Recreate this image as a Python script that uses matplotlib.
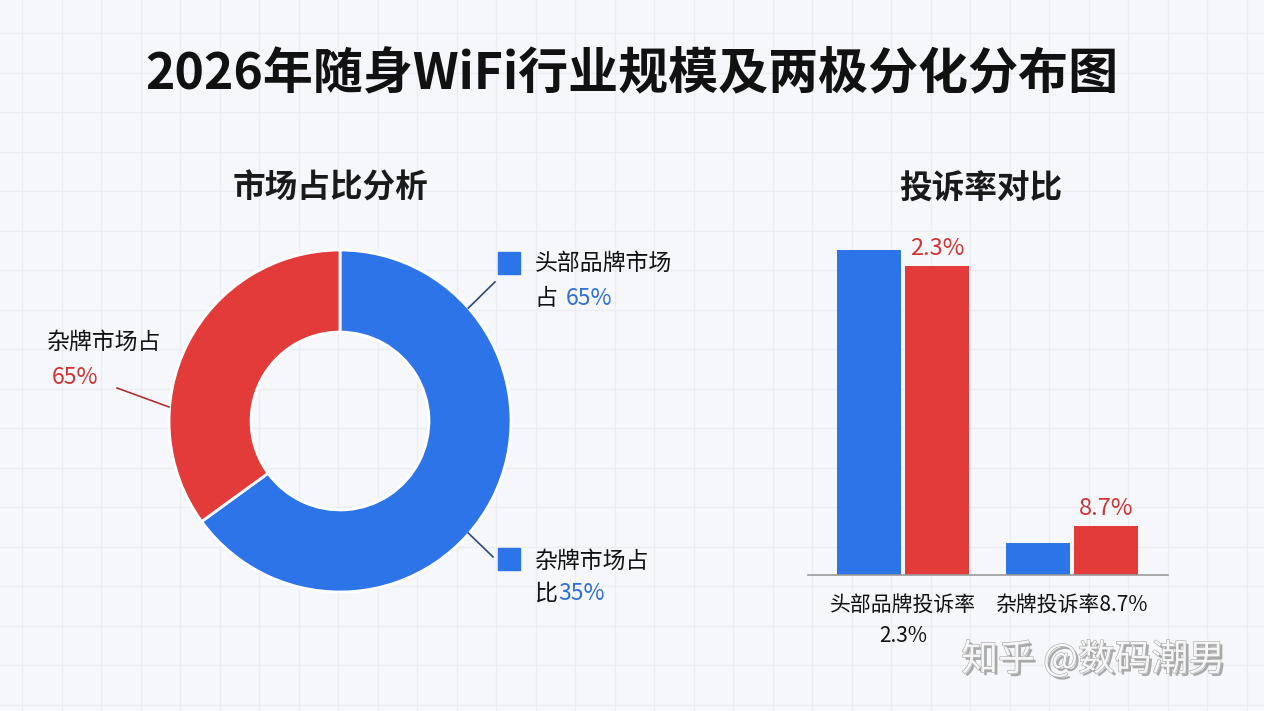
import matplotlib.pyplot as plt
import matplotlib.patheffects as pe
import numpy as np

plt.rcParams['font.family'] = ['Noto Sans CJK SC', 'DejaVu Sans']

# donut data
share_names = ['头部品牌', '杂牌']
share_values = [65, 35]

# bar data (relative heights)
bar_groups = ['头部品牌投诉率\n2.3%', '杂牌投诉率8.7%']
blue_vals = [10.0, 1.0]
red_vals = [9.5, 1.5]
red_labels = ['2.3%', '8.7%']

BLUE = '#2d74e8'
RED = '#e33a3a'
RED_TXT = '#cf3434'
BLUE_TXT = '#2f6fd6'
W, H = 1264, 711


def fx(x):
    return x / W


def fy(y):
    return 1 - y / H


fig = plt.figure(figsize=(12.64, 7.11), dpi=100)
fig.patch.set_facecolor('#f5f7fa')

# graph paper background
bg = fig.add_axes([0, 0, 1, 1], zorder=-10)
bg.set_xlim(0, W)
bg.set_ylim(H, 0)
bg.axis('off')
for x in np.arange(22, W, 39.5):
    bg.axvline(x, color='#eaedf2', lw=0.9)
for y in np.arange(33, H, 39.5):
    bg.axhline(y, color='#eaedf2', lw=0.9)

fig.text(fx(632), fy(75), '2026年随身WiFi行业规模及两极分化分布图', ha='center', va='center',
         fontsize=36, fontweight='bold', color='#111111')
fig.text(fx(330), fy(188), '市场占比分析', ha='center', va='center', fontsize=23.5,
         fontweight='bold', color='#1a1a1a')
fig.text(fx(981), fy(188), '投诉率对比', ha='center', va='center', fontsize=23.5,
         fontweight='bold', color='#1a1a1a')

# donut
r = 171
ax1 = fig.add_axes([fx(340 - r), fy(421 + r), 2 * r / W, 2 * r / H])
ax1.pie(share_values, colors=[BLUE, RED], startangle=90, counterclock=False,
        wedgeprops=dict(width=0.48, edgecolor='white', linewidth=2))
ax1.set_xlim(-1, 1)
ax1.set_ylim(-1, 1)
ax1.axis('off')

# leader lines
ax1.plot([0.75, 0.906], [0.66, 0.813], color='#2c4a7a', lw=1.2, clip_on=False)
ax1.plot([0.75, 0.895], [-0.655, -0.795], color='#2c4a7a', lw=1.2, clip_on=False)
ax1.plot([-1.0, -1.304], [0.082, 0.193], color='#b0303a', lw=1.2, clip_on=False)

# right labels with square markers
for sq_y in [263, 559]:
    fig.patches.append(plt.Rectangle((fx(498), fy(sq_y + 11)), 22 / W, 22 / H,
                                     transform=fig.transFigure, color=BLUE))
fig.text(fx(535), fy(263), '头部品牌市场', va='center', fontsize=16.5, color='#111111')
fig.text(fx(535), fy(298), '占 ', va='center', fontsize=16.5, color='#111111')
fig.text(fx(566), fy(298), f'{share_values[0]}%', va='center', fontsize=16.5, color=BLUE_TXT)
fig.text(fx(535), fy(561), '杂牌市场占', va='center', fontsize=16.5, color='#111111')
fig.text(fx(535), fy(593), '比', va='center', fontsize=16.5, color='#111111')
fig.text(fx(558), fy(593), f'{share_values[1]}%', va='center', fontsize=16.5, color=BLUE_TXT)

# left label
fig.text(fx(47), fy(342), '杂牌市场占', va='center', fontsize=16.5, color='#111111')
fig.text(fx(52), fy(377), '65%', va='center', fontsize=16.5, color=RED_TXT)

# bar chart
x = np.arange(len(bar_groups))
unit = 169
ax2 = fig.add_axes([fx(808), fy(575), 360 / W, 345 / H])
ax2.set_xlim(-95 / unit, 265 / unit)
ax2.set_ylim(0, blue_vals[0] * 345 / 325)
bw = 64 / unit
off = 34 / unit
ax2.bar(x - off, blue_vals, bw, color=BLUE)
bars_r = ax2.bar(x + off, red_vals, bw, color=RED)
for b, lab in zip(bars_r, red_labels):
    ax2.text(b.get_x() + b.get_width() / 2, b.get_height() + 0.2, lab, ha='center',
             va='bottom', fontsize=17, color=RED_TXT)
ax2.set_facecolor('none')
for s in ['top', 'right', 'left']:
    ax2.spines[s].set_visible(False)
ax2.spines['bottom'].set_color('#9a9a9a')
ax2.spines['bottom'].set_linewidth(1.2)
ax2.set_yticks([])
ax2.set_xticks(x)
ax2.set_xticklabels(bar_groups, fontsize=15, color='#111111', linespacing=1.5)
ax2.tick_params(axis='x', length=0, pad=14)

# watermark
fig.text(fx(1093), fy(660), '知乎 @数码潮男', ha='center', va='center', fontsize=26.5,
         color='#f6f6f6',
         path_effects=[pe.withSimplePatchShadow(offset=(2, -2), shadow_rgbFace='#8a8a8a', alpha=0.7),
                       pe.Stroke(linewidth=0.8, foreground='#a5a5a5'), pe.Normal()])

plt.savefig('out.png', dpi=100, facecolor=fig.get_facecolor())
